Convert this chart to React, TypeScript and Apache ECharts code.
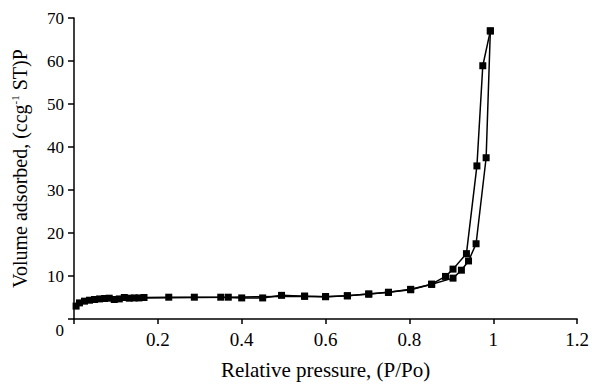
import React, { useEffect, useRef } from "react";
import * as echarts from "echarts";

const adsX = [0.005, 0.013, 0.025, 0.037, 0.049, 0.061, 0.073, 0.084, 0.096, 0.108, 0.12, 0.144, 0.167, 0.226, 0.287, 0.35, 0.40, 0.45, 0.495, 0.55, 0.60, 0.652, 0.703, 0.75, 0.803, 0.853, 0.904, 0.924, 0.941, 0.959, 0.983, 0.993];
const adsY = [3.0, 3.75, 4.15, 4.37, 4.53, 4.67, 4.77, 4.84, 4.53, 4.67, 5.0, 4.9, 5.0, 5.07, 5.07, 5.07, 4.9, 4.9, 5.5, 5.3, 5.2, 5.4, 5.8, 6.2, 6.8, 8.06, 9.5, 11.35, 13.5, 17.5, 37.5, 67.0];
const desX = [0.993, 0.975, 0.961, 0.936, 0.904, 0.886, 0.853, 0.803, 0.75, 0.703, 0.652, 0.60, 0.55, 0.368, 0.155, 0.132];
const desY = [67.0, 58.9, 35.6, 15.2, 11.6, 9.9, 8.1, 6.9, 6.2, 5.8, 5.4, 5.2, 5.3, 5.07, 4.9, 4.84];
const xTicks = { min: 0, max: 1.2, interval: 0.2 };
const yTicks = { min: 0, max: 70, interval: 10 };

const FONT = "'Liberation Serif', 'Times New Roman', serif";

export default function App() {
  const ref = useRef<HTMLDivElement>(null);
  useEffect(() => {
    const chart = echarts.init(ref.current!, null, { renderer: "svg" });
    const seriesBase = {
      type: "line" as const,
      symbol: "rect",
      symbolSize: 7,
      lineStyle: { color: "#000", width: 1.5 },
      itemStyle: { color: "#000" },
    };
    chart.setOption({
      animation: false,
      backgroundColor: "#fff",
      textStyle: { fontFamily: FONT },
      grid: { left: 74, top: 18, right: 7, bottom: 63, containLabel: false },
      xAxis: {
        type: "value",
        min: xTicks.min,
        max: xTicks.max,
        interval: xTicks.interval,
        name: "Relative pressure, (P/Po)",
        nameLocation: "middle",
        nameGap: 40,
        nameTextStyle: { fontFamily: FONT, fontSize: 21, color: "#000" },
        axisLine: { lineStyle: { color: "#000", width: 1.5 } },
        axisTick: { show: true, length: 5, lineStyle: { color: "#000", width: 1.5 } },
        axisLabel: {
          fontFamily: FONT,
          fontSize: 19,
          color: "#000",
          margin: 11,
          formatter: (v: number) => (v === 0 ? "" : String(Math.round(v * 10) / 10)),
        },
        splitLine: { show: false },
      },
      yAxis: {
        type: "value",
        min: yTicks.min,
        max: yTicks.max,
        interval: yTicks.interval,
        name: "{a|Volume adsorbed, (ccg}{s|-1}{a| ST)P}",
        nameLocation: "middle",
        nameGap: 44,
        nameTextStyle: {
          fontFamily: FONT,
          fontSize: 20,
          color: "#000",
          rich: {
            a: { fontFamily: FONT, fontSize: 20, color: "#000" },
            s: { fontFamily: FONT, fontSize: 11, color: "#000", padding: [0, 0, 10, 0] },
          },
        },
        axisLine: { show: true, lineStyle: { color: "#000", width: 1.5 } },
        axisTick: { show: true, length: 6, lineStyle: { color: "#000", width: 1.5 } },
        axisLabel: {
          fontFamily: FONT,
          fontSize: 17,
          color: "#000",
          margin: 10,
          formatter: (v: number) => (v === 0 ? "{z|0}" : String(v)),
          rich: { z: { fontFamily: FONT, fontSize: 17, color: "#000", padding: [22, 0, 0, 0] } },
        },
        splitLine: { show: false },
      },
      series: [
        { ...seriesBase, name: "Adsorption", data: adsX.map((x, i) => [x, adsY[i]]) },
        { ...seriesBase, name: "Desorption", data: desX.map((x, i) => [x, desY[i]]) },
      ],
    });
    return () => chart.dispose();
  }, []);
  return <div ref={ref} style={{ width: 592, height: 385, position: "absolute", left: 0, top: 0 }} />;
}
